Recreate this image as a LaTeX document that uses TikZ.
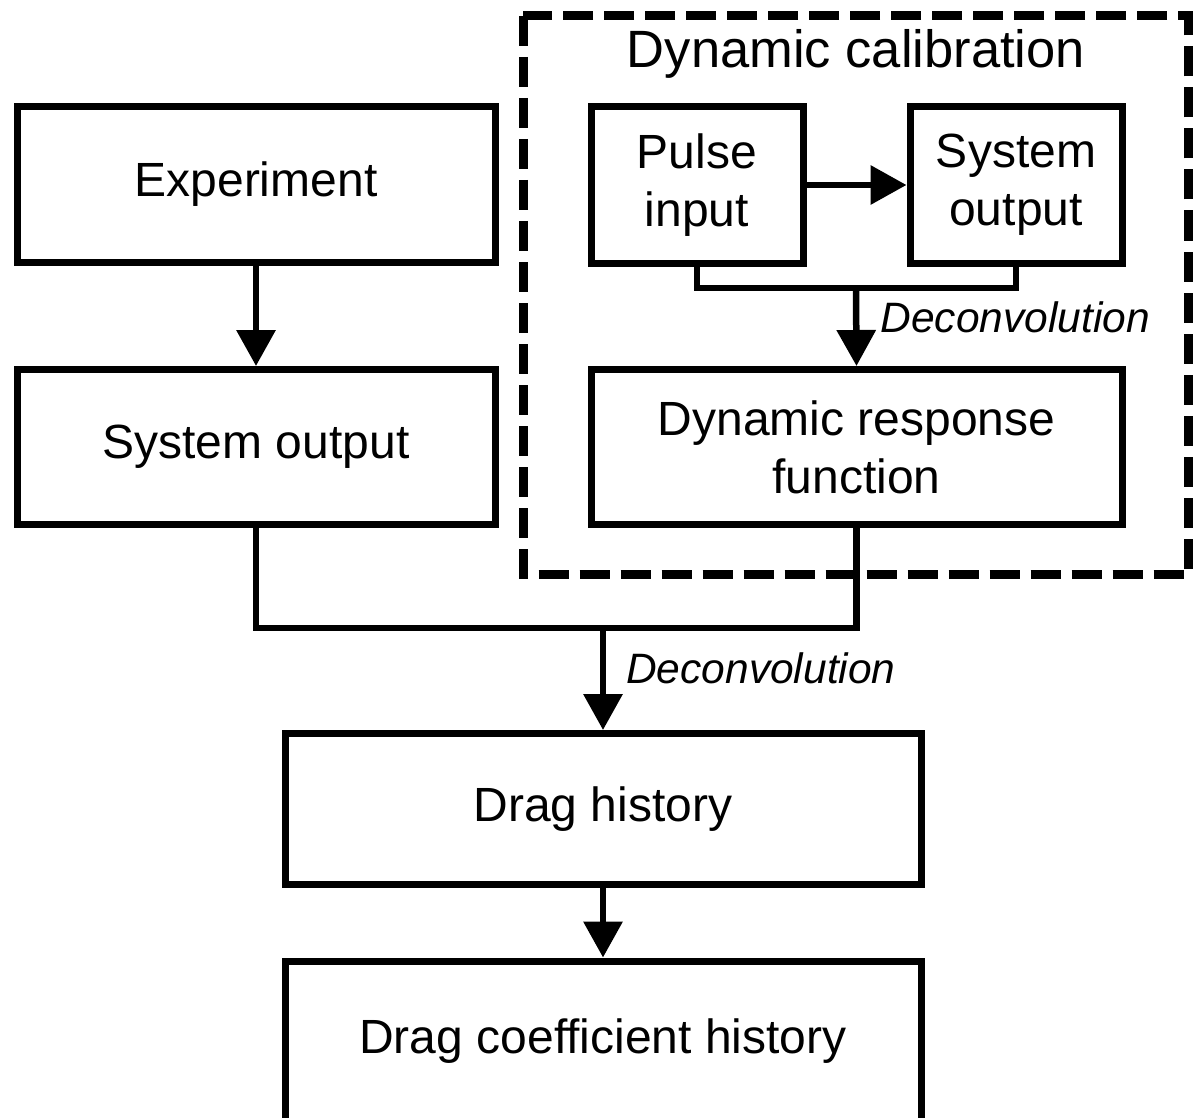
\documentclass[tikz,border=0pt]{standalone}
\usepackage{fontspec}
\setmainfont{Liberation Sans}
\usetikzlibrary{positioning, arrows.meta}

\begin{document}
\begin{tikzpicture}[
      x=1pt, y=-1pt,
      flowbox/.style={draw, line width=7pt, minimum width=#1, align=center, font=\fontsize{48}{58}\selectfont, inner sep=0pt},
      flowarrow/.style={-{Triangle[length=36pt, width=38pt]}, line width=6.5pt},
      flowline/.style={line width=6.5pt},
      steplabel/.style={font=\fontsize{42.5}{50}\selectfont\itshape, anchor=west, inner sep=0pt}
    ]
      \useasboundingbox (0,0) rectangle (1199,1118);
      % calibration frame
      \draw [line width=9pt, dash pattern=on 30pt off 11pt] (523,16) rectangle (1188.5,574.5);
      \node [font=\fontsize{52.5}{60}\selectfont] (calib) at (856,54) {Dynamic calibration};

      \node [flowbox=478pt, minimum height=155pt] (exp) at (256,184.5) {Experiment};
      \node [flowbox=478pt, minimum height=155pt] (outL) at (256,447) {System output};
      \node [flowbox=212pt, minimum height=157pt] (pulse) at (697,185) {Pulse\\input};
      \node [flowbox=212pt, minimum height=157pt] (outR) at (1016,185) {System\\output};
      \node [flowbox=531pt, minimum height=155pt] (drf) at (856.5,447) {Dynamic response\\function};
      \node [flowbox=636pt, minimum height=151pt] (drag) at (603,809) {Drag history};
      \node [flowbox=636pt, minimum height=160pt] (coef) at (603,1041) {Drag coefficient history};

      \coordinate (joinA) at (856,288);
      \coordinate (joinB) at (603,628);

      \draw [flowarrow] (exp) -- (outL);
      \draw [flowarrow] (pulse) -- (outR);
      \draw [flowline] (pulse.south) |- (joinA) -| (outR.south);
      \draw [flowarrow] (joinA) -- (drf.north) node [steplabel, pos=0.38, xshift=21pt] {Deconvolution};
      \draw [flowline] (outL.south) |- (joinB) -| (drf.south);
      \draw [flowarrow] (joinB) -- (drag.north) node [steplabel, pos=0.4, xshift=20pt] {Deconvolution};
      \draw [flowarrow] (drag) -- (coef);
    \end{tikzpicture}
\end{document}
